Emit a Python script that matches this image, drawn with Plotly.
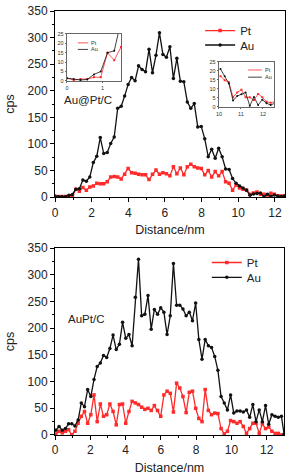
import plotly.graph_objects as go

# ---------------- data ----------------
top_distance = [0, 0.19, 0.38, 0.57, 0.76, 0.95, 1.14, 1.33, 1.52, 1.71,
                1.9, 2.09, 2.28, 2.47, 2.66, 2.85, 3.04, 3.23, 3.42, 3.61,
                3.8, 3.99, 4.18, 4.37, 4.56, 4.75, 4.94, 5.13, 5.32, 5.51,
                5.7, 5.89, 6.08, 6.27, 6.46, 6.65, 6.84, 7.03, 7.22, 7.41,
                7.6, 7.79, 7.98, 8.17, 8.36, 8.55, 8.74, 8.93, 9.12, 9.31,
                9.5, 9.69, 9.88, 10.07, 10.26, 10.45, 10.64, 10.83, 11.02, 11.21,
                11.4, 11.59, 11.78, 11.97, 12.16, 12.35, 12.54]
top_pt = [1.5, 0.5, 1, 1, 2, 2, 15, 11, 18, 13,
          19, 21, 26, 25, 25, 29, 38, 39, 38, 34,
          43, 54, 46, 45, 43, 42, 42, 33, 43, 51,
          43, 46, 44, 40, 57, 44, 55, 42, 57, 62,
          57, 55, 54, 42, 50, 38, 48, 40, 48, 29,
          26, 13, 23, 17, 14.8, 13.6, 5.3, 8, 9.5, 5.3,
          5.3, 3.8, 7.2, 5.3, 2.8, 2.3, 2.8]
top_au = [1.5, 1, 0.5, 0.8, 3.5, 5, 15, 16, 32, 30,
          38, 65, 77, 112, 82, 84, 101, 113, 167, 171,
          190, 212, 225, 219, 247, 240, 236, 278, 234, 267,
          309, 268, 263, 283, 223, 261, 218, 217, 179, 167,
          176, 132, 133, 110, 76, 90, 73, 92, 76, 53,
          52, 35, 26, 21, 17, 13, 3.5, 6, 7, 8,
          0.5, 5.5, 1, 4, 2, 1, 2]

bot_distance = [0.05, 0.23, 0.41, 0.59, 0.77, 0.95, 1.13, 1.31, 1.49, 1.67,
                1.85, 2.03, 2.21, 2.39, 2.57, 2.75, 2.93, 3.11, 3.29, 3.47,
                3.65, 3.83, 4.01, 4.19, 4.37, 4.55, 4.73, 4.91, 5.09, 5.27,
                5.45, 5.63, 5.81, 5.99, 6.17, 6.35, 6.53, 6.71, 6.89, 7.07,
                7.25, 7.43, 7.61, 7.79, 7.97, 8.15, 8.33, 8.51, 8.69, 8.87,
                9.05, 9.23, 9.41, 9.59, 9.77, 9.95, 10.13, 10.31, 10.49, 10.67,
                10.85, 11.03, 11.21, 11.39, 11.57, 11.75, 11.93, 12.11, 12.29, 12.47,
                12.65, 12.83, 12.98]
bot_pt = [2, 7, 4, 7, 10, 0, 7, 22, 35, 44,
          22, 38, 75, 25, 58, 35, 38, 58, 44, 19,
          57, 58, 22, 44, 63, 60, 57, 52, 48, 50,
          46, 55, 46, 35, 75, 82, 78, 43, 97, 88,
          72, 42, 80, 82, 50, 31, 25, 85, 46, 38,
          41, 40, 12, 2, 7, 27, 25, 22, 25, 16,
          3, 12, 22, 22, 3, 21, 12, 15, 7, 3,
          3, 0, 0]
bot_au = [9, 16, 9, 12, 21, 21, 17, 28, 60, 53,
          85, 72, 104, 128, 135, 149, 145, 162, 187, 160,
          170, 211, 181, 188, 167, 258, 329, 223, 226, 261,
          198, 235, 226, 238, 230, 188, 223, 321, 243, 243,
          236, 223, 230, 214, 247, 179, 142, 179, 167, 164,
          147, 121, 72, 60, 47, 75, 41, 45, 45, 43,
          47, 33, 57, 25, 47, 25, 55, 20, 38, 35,
          33, 35, 2]

y_ticks = [0, 50, 100, 150, 200, 250, 300, 350]
x_ticks = [0, 2, 4, 6, 8, 10, 12]
inset_y_ticks = [0, 5, 10, 15, 20, 25]
left_inset_count = 9      # first points shown in the left inset
right_inset_start = 53    # index where the right inset begins

RED = "#ff2a2a"
BLACK = "#111111"
FONT = "Arial, Liberation Sans, sans-serif"

fig = go.Figure()

def add_pair(xs, pt, au, xa, ya, legs, msize, lw, show=True):
    fig.add_trace(go.Scatter(x=xs, y=pt, name="Pt", mode="lines+markers",
                             line=dict(color=RED, width=lw),
                             marker=dict(symbol="square", size=msize, color=RED),
                             xaxis=xa, yaxis=ya, legend=legs[0], showlegend=show))
    fig.add_trace(go.Scatter(x=xs, y=au, name="Au", mode="lines+markers",
                             line=dict(color=BLACK, width=lw),
                             marker=dict(symbol="circle", size=msize, color=BLACK),
                             xaxis=xa, yaxis=ya, legend=legs[1], showlegend=show))

add_pair(top_distance, top_pt, top_au, "x", "y", ("legend", "legend3"), 3.5, 1.3)
add_pair(bot_distance, bot_pt, bot_au, "x2", "y2", ("legend2", "legend4"), 3.5, 1.3)
add_pair(top_distance[:left_inset_count], top_pt[:left_inset_count],
         top_au[:left_inset_count], "x3", "y3", ("legend", "legend"), 2, 0.8, show=False)
add_pair(top_distance[right_inset_start:], top_pt[right_inset_start:],
         top_au[right_inset_start:], "x4", "y4", ("legend", "legend"), 2, 0.8, show=False)

main_ax = dict(showline=True, mirror=True, linecolor="black", linewidth=1,
               ticks="outside", ticklen=4, tickwidth=1, tickcolor="black",
               showgrid=False, zeroline=False, automargin=False,
               tickfont=dict(family=FONT, size=12, color="#222"))
title_font = dict(family=FONT, size=12.5, color="#222")

fig.update_layout(
    width=298, height=476,
    margin=dict(l=55, r=13, t=11, b=41, autoexpand=False),
    paper_bgcolor="white", plot_bgcolor="white",
    font=dict(family=FONT, color="#222"),
    xaxis=dict(main_ax, domain=[0, 1], anchor="y", range=[0, 12.55],
               tickvals=x_ticks, minor=dict(ticks="outside", ticklen=2, dtick=1, tickcolor="black"),
               title=dict(text="Distance/nm", font=title_font, standoff=6)),
    yaxis=dict(main_ax, domain=[0.561, 1], anchor="x", range=[0, 350],
               tickvals=y_ticks, minor=dict(ticks="outside", ticklen=2, dtick=25, tickcolor="black"),
               title=dict(text="cps", font=title_font, standoff=10)),
    xaxis2=dict(main_ax, domain=[0, 0.996], anchor="y2", range=[0, 12.98],
                tickvals=x_ticks, minor=dict(ticks="outside", ticklen=2, dtick=1, tickcolor="black"),
                title=dict(text="Distance/nm", font=title_font, standoff=6)),
    yaxis2=dict(main_ax, domain=[0, 0.441], anchor="x2", range=[0, 350],
                tickvals=y_ticks, minor=dict(ticks="outside", ticklen=2, dtick=25, tickcolor="black"),
                title=dict(text="cps", font=title_font, standoff=10)),
)

inset_ax = dict(showline=True, mirror=True, linecolor="#666", linewidth=0.7,
                ticks="outside", ticklen=1.5, tickwidth=0.6, tickcolor="#666",
                showgrid=False, zeroline=False, automargin=False,
                tickfont=dict(family=FONT, size=5.5, color="#333"))
fig.update_layout(
    xaxis3=dict(inset_ax, domain=[0.052, 0.287], anchor="y3", range=[0, 1.52],
                tickvals=[0, 1]),
    yaxis3=dict(inset_ax, domain=[0.835, 0.946], anchor="x3", range=[0, 25],
                tickvals=inset_y_ticks),
    xaxis4=dict(inset_ax, domain=[0.713, 0.952], anchor="y4", range=[10, 12.5],
                tickvals=[10, 11, 12]),
    yaxis4=dict(inset_ax, domain=[0.774, 0.880], anchor="x4", range=[0, 25],
                tickvals=inset_y_ticks),
)

# main legends: one legend box per entry so the rows sit as close as in the original
leg_style = dict(bgcolor="rgba(0,0,0,0)", font=dict(family=FONT, size=11.5, color="#222"),
                 xanchor="left", yanchor="top", itemwidth=30, tracegroupgap=0)
fig.update_layout(
    legend=dict(leg_style, x=0.631, y=0.988),
    legend3=dict(leg_style, x=0.631, y=0.954),
    legend2=dict(leg_style, x=0.66, y=0.441),
    legend4=dict(leg_style, x=0.66, y=0.406),
)

# inset legends (drawn as small line samples with labels)
shapes = []
annotations = []
for xa, ya, x0, x1, ys in [("x3", "y3", 0.2, 0.39, (0.81, 0.67)),
                           ("x4", "y4", 0.53, 0.78, (0.82, 0.66))]:
    for (name, col), yy in zip([("Pt", RED), ("Au", BLACK)], ys):
        shapes.append(dict(type="line", xref=f"{xa} domain", yref=f"{ya} domain",
                           x0=x0, x1=x1, y0=yy, y1=yy, line=dict(color=col, width=0.8)))
        annotations.append(dict(text=name, xref=f"{xa} domain", yref=f"{ya} domain",
                                x=x1 + 0.02, y=yy, xanchor="left", yanchor="middle",
                                showarrow=False, font=dict(family=FONT, size=5.5, color="#333")))

annotations.append(dict(text="Au@Pt/C", xref="x", yref="y", x=1.78, y=182,
                        showarrow=False, font=dict(family=FONT, size=11.5, color="#222")))
annotations.append(dict(text="AuPt/C", xref="x2", yref="y2", x=1.75, y=217,
                        showarrow=False, font=dict(family=FONT, size=11.5, color="#222")))
fig.update_layout(shapes=shapes, annotations=annotations)

fig.write_html("out.html", config={"displayModeBar": False},
               post_script="document.body.style.margin='0';")
